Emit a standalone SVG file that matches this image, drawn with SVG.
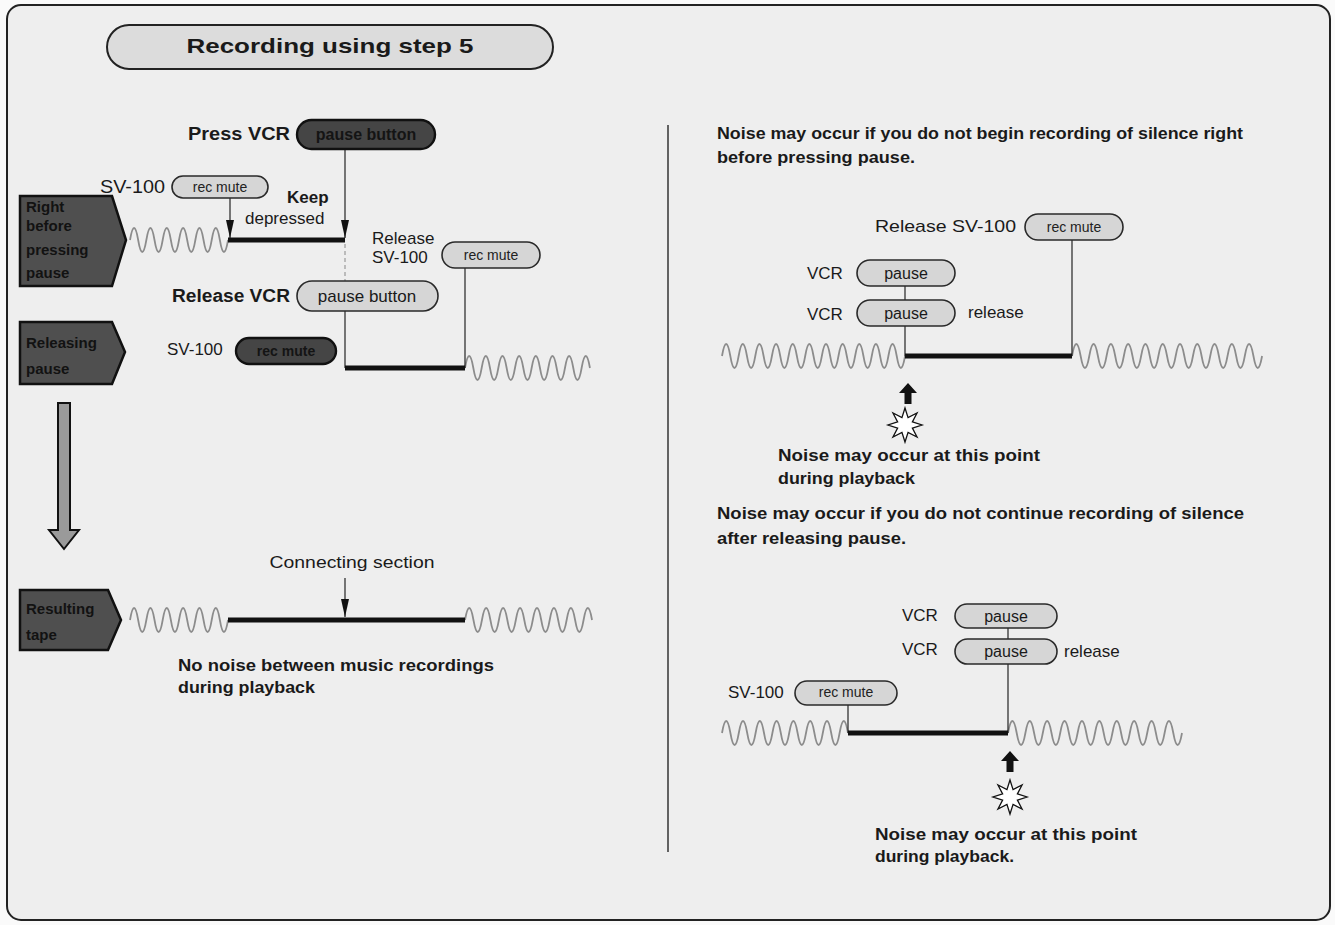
<svg xmlns="http://www.w3.org/2000/svg" width="1335" height="925" viewBox="0 0 1335 925">
<defs>
<style>
 text{font-family:"Liberation Sans",Arial,sans-serif;fill:#1a1a1a}
 .b{font-weight:bold}
 .s17{font-size:17px}
 .s18{font-size:18px}
 .pill{fill:#d6d6d6;stroke:#2a2a2a;stroke-width:1.6}
 .dpill{fill:#454545;stroke:#111;stroke-width:2.4}
 .dtxt{fill:#141414;font-weight:bold;text-anchor:middle}
 .lab{fill:#4f4f4f;stroke:#111;stroke-width:2.5}
 .ltxt{fill:#121212;font-weight:bold;font-size:15px}
 .wave{fill:none;stroke:#8c8c8c;stroke-width:1.8}
 .thick{stroke:#111;stroke-width:5;fill:none}
 .thin{stroke:#333;stroke-width:1.3;fill:none}
 .ptxt{font-size:14px;text-anchor:middle;fill:#222}
</style>
<marker id="ah" viewBox="0 0 18 8" refX="18" refY="4" markerWidth="18" markerHeight="8" markerUnits="userSpaceOnUse" orient="auto"><path d="M0,0 L18,4 L0,8 Z" fill="#111"/></marker>
<polygon id="star" points="0,-17 3.06,-7.39 12.02,-12.02 7.39,-3.06 17,0 7.39,3.06 12.02,12.02 3.06,7.39 0,17 -3.06,7.39 -12.02,12.02 -7.39,3.06 -17,0 -7.39,-3.06 -12.02,-12.02 -3.06,-7.39" fill="#fff" stroke="#111" stroke-width="1.3"/>
<path id="uparrow" d="M0,0 L9,10 L3.5,10 L3.5,21 L-3.5,21 L-3.5,10 L-9,10 Z" fill="#111"/>
</defs>

<rect x="0" y="0" width="1335" height="925" fill="#fafafa"/>
<rect x="7" y="5" width="1323" height="915" rx="14" fill="#eeeeee" stroke="#222" stroke-width="2"/>

<g id="title">
 <rect x="107" y="25" width="446" height="44" rx="22" fill="#dcdcdc" stroke="#222" stroke-width="2"/>
 <text x="330" y="53" class="b" font-size="21" text-anchor="middle" textLength="287" lengthAdjust="spacingAndGlyphs">Recording using step 5</text>
</g>

<g id="divider"><line x1="668" y1="125" x2="668" y2="852" stroke="#333" stroke-width="1.5"/></g>

<g id="waves">
 <path class="wave" d="M130,240 q4.085,-24 8.17,0 t8.17,0 t8.17,0 t8.17,0 t8.17,0 t8.17,0 t8.17,0 t8.17,0 t8.17,0 t8.17,0 t8.17,0 t8.17,0"/>
 <path class="wave" d="M465,368 q4.165,-24 8.33,0 t8.33,0 t8.33,0 t8.33,0 t8.33,0 t8.33,0 t8.33,0 t8.33,0 t8.33,0 t8.33,0 t8.33,0 t8.33,0 t8.33,0 t8.33,0 t8.33,0"/>
 <path class="wave" d="M130,620 q4.085,-24 8.17,0 t8.17,0 t8.17,0 t8.17,0 t8.17,0 t8.17,0 t8.17,0 t8.17,0 t8.17,0 t8.17,0 t8.17,0 t8.17,0"/>
 <path class="wave" d="M465,620 q4.235,-24 8.47,0 t8.47,0 t8.47,0 t8.47,0 t8.47,0 t8.47,0 t8.47,0 t8.47,0 t8.47,0 t8.47,0 t8.47,0 t8.47,0 t8.47,0 t8.47,0 t8.47,0"/>
 <path class="wave" d="M722,356 q4.16,-24 8.32,0 t8.32,0 t8.32,0 t8.32,0 t8.32,0 t8.32,0 t8.32,0 t8.32,0 t8.32,0 t8.32,0 t8.32,0 t8.32,0 t8.32,0 t8.32,0 t8.32,0 t8.32,0 t8.32,0 t8.32,0 t8.32,0 t8.32,0 t8.32,0 t8.32,0"/>
 <path class="wave" d="M1072,356 q4.32,-24 8.64,0 t8.64,0 t8.64,0 t8.64,0 t8.64,0 t8.64,0 t8.64,0 t8.64,0 t8.64,0 t8.64,0 t8.64,0 t8.64,0 t8.64,0 t8.64,0 t8.64,0 t8.64,0 t8.64,0 t8.64,0 t8.64,0 t8.64,0 t8.64,0 t8.64,0"/>
 <path class="wave" d="M722,733 q4.2,-24 8.4,0 t8.4,0 t8.4,0 t8.4,0 t8.4,0 t8.4,0 t8.4,0 t8.4,0 t8.4,0 t8.4,0 t8.4,0 t8.4,0 t8.4,0 t8.4,0 t8.4,0"/>
 <path class="wave" d="M1008,733 q4.35,-24 8.7,0 t8.7,0 t8.7,0 t8.7,0 t8.7,0 t8.7,0 t8.7,0 t8.7,0 t8.7,0 t8.7,0 t8.7,0 t8.7,0 t8.7,0 t8.7,0 t8.7,0 t8.7,0 t8.7,0 t8.7,0 t8.7,0 t8.7,0"/>
</g>

<g id="connectors">
 <line class="thin" x1="345" y1="149" x2="345" y2="238" marker-end="url(#ah)"/>
 <line class="thin" x1="230" y1="198" x2="230" y2="238" marker-end="url(#ah)"/>
 <line x1="345" y1="244" x2="345" y2="281" stroke="#9a9a9a" stroke-width="1.2" stroke-dasharray="4 3"/>
 <line class="thin" x1="345" y1="311" x2="345" y2="368"/>
 <line class="thin" x1="465" y1="268" x2="465" y2="368"/>
 <line class="thin" x1="345" y1="578" x2="345" y2="617" marker-end="url(#ah)"/>
 <line class="thin" x1="1072" y1="240" x2="1072" y2="356"/>
 <line class="thin" x1="905" y1="286" x2="905" y2="300"/>
 <line class="thin" x1="905" y1="326" x2="905" y2="356"/>
 <line class="thin" x1="1008" y1="628" x2="1008" y2="639"/>
 <line class="thin" x1="1008" y1="664" x2="1008" y2="733"/>
 <line class="thin" x1="848" y1="705" x2="848" y2="733"/>
 <path class="thick" d="M228,240 H345"/>
 <path class="thick" d="M345,368 H465"/>
 <path class="thick" d="M228,620 H465"/>
 <path class="thick" d="M905,356 H1072"/>
 <path class="thick" d="M848,733 H1008"/>
 <path d="M58,403 L70,403 L70,530 L79,530 L64,549 L49,530 L58,530 Z" fill="#9a9a9a" stroke="#111" stroke-width="2"/>
 <use href="#uparrow" x="908" y="383"/>
 <use href="#uparrow" x="1010" y="751"/>
 <use href="#star" x="905" y="425"/>
 <use href="#star" x="1010" y="797"/>
</g>

<g id="label-right-before">
 <polygon class="lab" points="20,196 112,196 126,240 112,286 20,286"/>
 <text class="ltxt" x="26" y="212">Right</text>
 <text class="ltxt" x="26" y="231">before</text>
 <text class="ltxt" x="26" y="255">pressing</text>
 <text class="ltxt" x="26" y="278">pause</text>
</g>
<g id="label-releasing">
 <polygon class="lab" points="20,322 112,322 125,352 112,384 20,384"/>
 <text class="ltxt" x="26" y="348">Releasing</text>
 <text class="ltxt" x="26" y="374">pause</text>
</g>
<g id="label-resulting">
 <polygon class="lab" points="20,590 108,590 121,620 108,650 20,650"/>
 <text class="ltxt" x="26" y="614">Resulting</text>
 <text class="ltxt" x="26" y="640">tape</text>
</g>

<g id="press-vcr">
 <text x="290" y="140" class="b s18" text-anchor="end" textLength="102" lengthAdjust="spacingAndGlyphs">Press VCR</text>
 <rect class="dpill" x="297" y="120" width="138" height="29" rx="14.5"/>
 <text class="dtxt" x="366" y="140" font-size="16">pause button</text>
</g>
<g id="sv100-recmute-1">
 <text x="100" y="193" class="s18" textLength="65" lengthAdjust="spacingAndGlyphs">SV-100</text>
 <rect class="pill" x="172" y="176" width="96" height="22" rx="11"/>
 <text class="ptxt" x="220" y="192">rec mute</text>
</g>
<g id="keep-depressed">
 <text x="287" y="203" class="b s17">Keep</text>
 <text x="245" y="224" class="s17">depressed</text>
</g>
<g id="release-sv100">
 <text x="372" y="244" class="s17">Release</text>
 <text x="372" y="263" class="s17">SV-100</text>
 <rect class="pill" x="442" y="242" width="98" height="26" rx="13"/>
 <text class="ptxt" x="491" y="260">rec mute</text>
</g>
<g id="release-vcr">
 <text x="290" y="302" class="b s18" text-anchor="end" textLength="118" lengthAdjust="spacingAndGlyphs">Release VCR</text>
 <rect class="pill" x="297" y="281" width="141" height="30" rx="15"/>
 <text x="367" y="302" font-size="17" text-anchor="middle">pause button</text>
</g>
<g id="sv100-recmute-dark">
 <text x="167" y="355" class="s17">SV-100</text>
 <rect class="dpill" x="236" y="338" width="100" height="26" rx="13"/>
 <text class="dtxt" x="286" y="356" font-size="14">rec mute</text>
</g>
<g id="connecting-section">
 <text x="352" y="568" class="s17" text-anchor="middle" textLength="165" lengthAdjust="spacingAndGlyphs">Connecting section</text>
</g>
<g id="no-noise">
 <text x="178" y="671" class="b s17" textLength="316" lengthAdjust="spacingAndGlyphs">No noise between music recordings</text>
 <text x="178" y="693" class="b s17" textLength="137" lengthAdjust="spacingAndGlyphs">during playback</text>
</g>

<g id="note-begin">
 <text x="717" y="139" class="b s17" textLength="526" lengthAdjust="spacingAndGlyphs">Noise may occur if you do not begin recording of silence right</text>
 <text x="717" y="163" class="b s17" textLength="198" lengthAdjust="spacingAndGlyphs">before pressing pause.</text>
</g>
<g id="r-release-sv100">
 <text x="875" y="232" class="s17" textLength="141" lengthAdjust="spacingAndGlyphs">Release SV-100</text>
 <rect class="pill" x="1025" y="214" width="98" height="26" rx="13"/>
 <text class="ptxt" x="1074" y="232">rec mute</text>
</g>
<g id="r-vcr-pause-1">
 <text x="807" y="279" class="s17">VCR</text>
 <rect class="pill" x="857" y="260" width="98" height="26" rx="13"/>
 <text x="906" y="279" font-size="16" text-anchor="middle">pause</text>
</g>
<g id="r-vcr-pause-2">
 <text x="807" y="320" class="s17">VCR</text>
 <rect class="pill" x="857" y="300" width="98" height="26" rx="13"/>
 <text x="906" y="319" font-size="16" text-anchor="middle">pause</text>
 <text x="968" y="318" class="s17">release</text>
</g>
<g id="note-point-1">
 <text x="778" y="461" class="b s17" textLength="262" lengthAdjust="spacingAndGlyphs">Noise may occur at this point</text>
 <text x="778" y="484" class="b s17" textLength="137" lengthAdjust="spacingAndGlyphs">during playback</text>
</g>
<g id="note-continue">
 <text x="717" y="519" class="b s17" textLength="527" lengthAdjust="spacingAndGlyphs">Noise may occur if you do not continue recording of silence</text>
 <text x="717" y="544" class="b s17" textLength="189" lengthAdjust="spacingAndGlyphs">after releasing pause.</text>
</g>
<g id="r-vcr-pause-3">
 <text x="902" y="621" class="s17">VCR</text>
 <rect class="pill" x="955" y="604" width="102" height="24" rx="12"/>
 <text x="1006" y="622" font-size="16" text-anchor="middle">pause</text>
</g>
<g id="r-vcr-pause-4">
 <text x="902" y="655" class="s17">VCR</text>
 <rect class="pill" x="955" y="639" width="102" height="25" rx="12.5"/>
 <text x="1006" y="657" font-size="16" text-anchor="middle">pause</text>
 <text x="1064" y="657" class="s17">release</text>
</g>
<g id="r-sv100-recmute">
 <text x="728" y="698" class="s17">SV-100</text>
 <rect class="pill" x="795" y="681" width="102" height="24" rx="12"/>
 <text class="ptxt" x="846" y="697">rec mute</text>
</g>
<g id="note-point-2">
 <text x="875" y="840" class="b s17" textLength="262" lengthAdjust="spacingAndGlyphs">Noise may occur at this point</text>
 <text x="875" y="862" class="b s17" textLength="139" lengthAdjust="spacingAndGlyphs">during playback.</text>
</g>
</svg>
